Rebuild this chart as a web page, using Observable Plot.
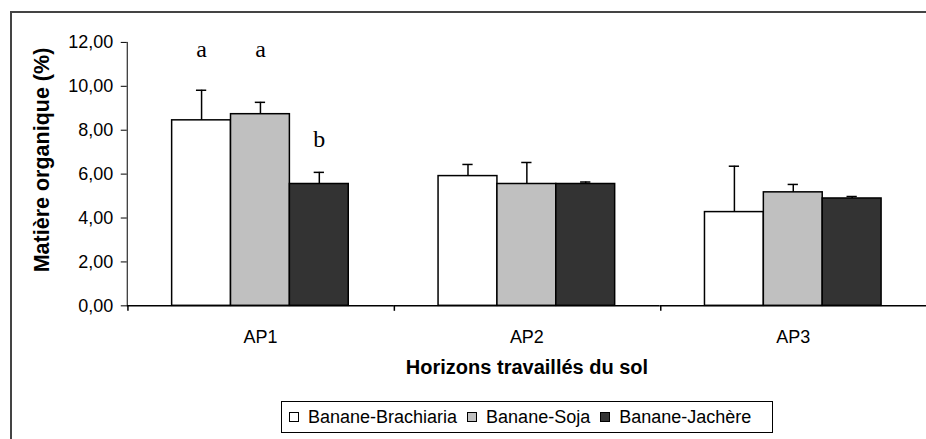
<!DOCTYPE html>
<html>
<head>
<meta charset="utf-8">
<script src="https://cdn.jsdelivr.net/npm/d3@7"></script>
<script src="https://cdn.jsdelivr.net/npm/@observablehq/plot@0.6"></script>
<style>
html, body { margin: 0; padding: 0; background: #fff; overflow: hidden; }
#wrap { position: relative; width: 926px; height: 439px; overflow: hidden; font-family: "Liberation Sans", Arial, sans-serif; color: #000; }
#border { position: absolute; left: 10px; top: 11px; width: 1200px; height: 1200px; border-top: 2px solid #444; border-left: 2px solid #444; }
#chart { position: absolute; left: 0; top: 0; }
#ytitle { position: absolute; left: 42px; top: 160px; transform: translate(-50%, -50%) rotate(-90deg); white-space: nowrap; font-weight: bold; font-size: 21.5px; }
#xtitle { position: absolute; left: 527px; top: 367px; transform: translate(-50%, -50%); white-space: nowrap; font-weight: bold; font-size: 20px; }
#legend { position: absolute; left: 281px; top: 401px; width: 483px; height: 30px; border: 1px solid #000; padding-left: 7px; display: flex; align-items: center; font-size: 18px; }
.item { display: flex; align-items: center; margin-right: 10px; }
.sw { width: 8px; height: 8px; border: 1px solid #000; margin-right: 9px; }
</style>
</head>
<body>
<div id="wrap">
  <div id="border"></div>
  <div id="chart"></div>
  <div id="ytitle">Matière organique (%)</div>
  <div id="xtitle">Horizons travaillés du sol</div>
  <div id="legend"></div>
</div>
<script>
// Categories and series
const horizons = ["AP1", "AP2", "AP3"];
const series = ["Banane-Brachiaria", "Banane-Soja", "Banane-Jachère"];
// Mean values (%) per horizon
const brachiaria = [8.45, 5.91, 4.27];
const soja = [8.73, 5.55, 5.17];
const jachere = [5.55, 5.55, 4.89];
// Upper error (standard deviation) per horizon
const errBrachiaria = [1.37, 0.53, 2.09];
const errSoja = [0.54, 0.98, 0.36];
const errJachere = [0.53, 0.09, 0.09];
// Significance letters (AP1 only)
const letterHorizon = ["AP1", "AP1", "AP1"];
const letterSeries = ["Banane-Brachiaria", "Banane-Soja", "Banane-Jachère"];
const letterText = ["a", "a", "b"];
const letterY = [11.67, 11.67, 7.59];
// Axis ticks
const yTicks = [0, 2, 4, 6, 8, 10, 12];
const colors = ["#ffffff", "#c0c0c0", "#333333"];

const values = [brachiaria, soja, jachere];
const errors = [errBrachiaria, errSoja, errJachere];
const rows = [];
horizons.forEach((h, i) => series.forEach((s, j) => rows.push({horizon: h, series: s, value: values[j][i], err: errors[j][i]})));
const letters = letterText.map((t, k) => ({horizon: letterHorizon[k], series: letterSeries[k], text: t, y: letterY[k]}));

const xPadOuter = 0.736;
const facetWidth = (928 - 127) / horizons.length;
const bw = facetWidth / (series.length + 2 * xPadOuter);
const boundaryDx = -(xPadOuter * bw + bw / 2);

const chart = Plot.plot({
  width: 928,
  height: 385,
  marginLeft: 127,
  marginRight: 0,
  marginTop: 42,
  marginBottom: 79,
  style: {fontFamily: "'Liberation Sans', Arial, sans-serif", fontSize: "18px", color: "#000", background: "transparent", overflow: "visible"},
  fx: {domain: horizons, padding: 0, label: null, axis: "bottom", tickSize: 0, tickPadding: 24},
  x: {domain: series, paddingInner: 0, paddingOuter: xPadOuter, axis: null},
  y: {domain: [0, 12], ticks: yTicks, tickFormat: d => d.toFixed(2).replace(".", ","), tickSize: 6, tickPadding: 8, label: null, line: true},
  color: {domain: series, range: colors},
  marks: [
    Plot.barY(rows, {fx: "horizon", x: "series", y: "value", fill: "series", stroke: "#000", strokeWidth: 1.5}),
    Plot.ruleX(rows, {fx: "horizon", x: "series", y1: "value", y2: d => d.value + d.err, stroke: "#000", strokeWidth: 1.5}),
    Plot.tickY(rows, {fx: "horizon", x: "series", y: d => d.value + d.err, stroke: "#000", strokeWidth: 1.5, insetLeft: bw / 2 - 5.5, insetRight: bw / 2 - 5.5}),
    Plot.ruleY([0], {stroke: "#000", strokeWidth: 1.5}),
    Plot.ruleX(horizons, {fx: d => d, x: () => series[0], y1: 0, y2: -0.25, dx: boundaryDx, stroke: "#000", strokeWidth: 1.5}),
    Plot.text(letters, {fx: "horizon", x: "series", y: "y", text: "text", fontFamily: "'Liberation Serif', 'Times New Roman', serif", fontSize: 24, fill: "#000"})
  ]
});
document.getElementById("chart").appendChild(chart);

const legend = document.getElementById("legend");
series.forEach((s, j) => {
  const item = document.createElement("div");
  item.className = "item";
  const sw = document.createElement("div");
  sw.className = "sw";
  sw.style.background = colors[j];
  const label = document.createElement("span");
  label.textContent = s;
  item.appendChild(sw);
  item.appendChild(label);
  legend.appendChild(item);
});
</script>
</body>
</html>
